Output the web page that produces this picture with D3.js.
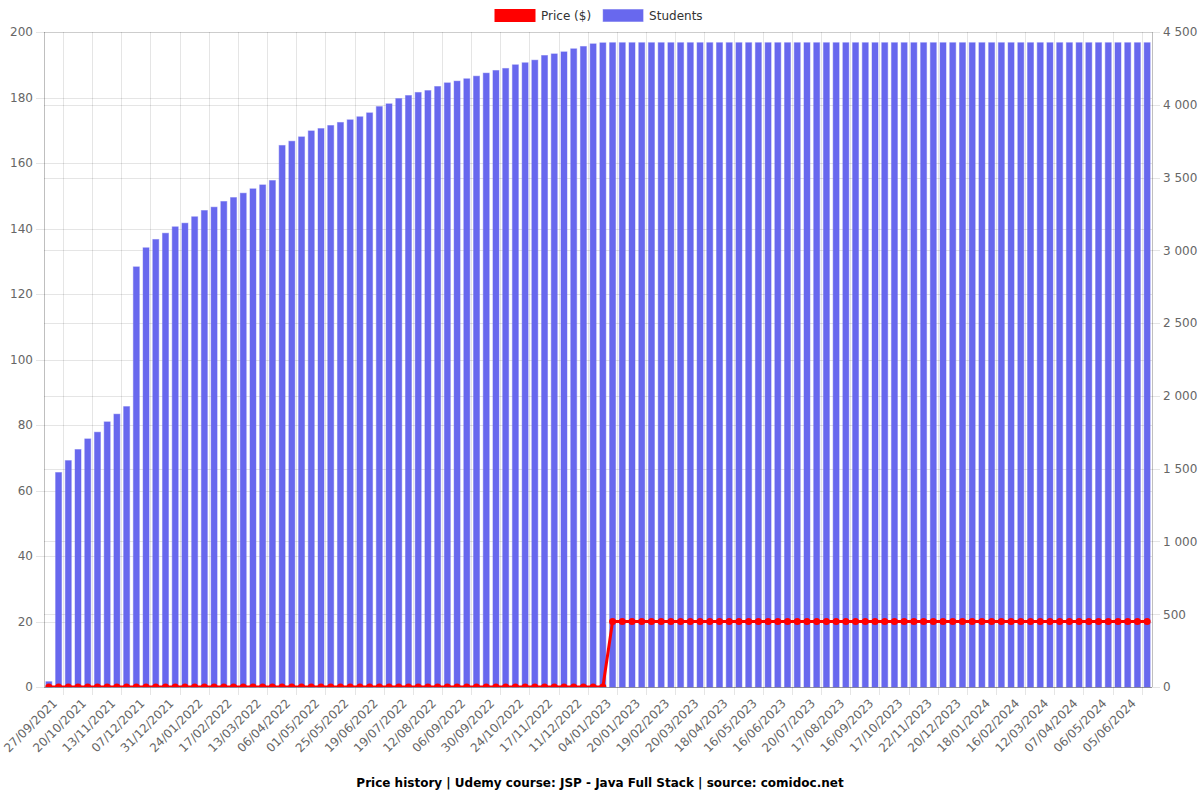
<!DOCTYPE html>
<html><head><meta charset="utf-8">
<script src="https://cdn.jsdelivr.net/npm/d3@7"></script>
<style>body{margin:0;background:#fff}svg text{font-family:"DejaVu Sans",sans-serif}</style>
</head><body><svg id="c" width="1200" height="800"></svg>
<script>
const tickLabels = ["27/09/2021","20/10/2021","13/11/2021","07/12/2021","31/12/2021","24/01/2022","17/02/2022","13/03/2022","06/04/2022","01/05/2022","25/05/2022","19/06/2022","19/07/2022","12/08/2022","06/09/2022","30/09/2022","24/10/2022","17/11/2022","11/12/2022","04/01/2023","20/01/2023","19/02/2023","20/03/2023","18/04/2023","16/05/2023","16/06/2023","20/07/2023","17/08/2023","16/09/2023","17/10/2023","22/11/2023","20/12/2023","18/01/2024","16/02/2024","12/03/2024","07/04/2024","06/05/2024","05/06/2024"];
const students = [40,1477,1559,1635,1708,1754,1825,1878,1930,2890,
  3021,3078,3121,3165,3190,3234,3277,3300,3339,3366,
  3396,3426,3453,3483,3724,3753,3783,3824,3840,3861,
  3882,3900,3921,3948,3991,4010,4046,4067,4088,4101,
  4129,4154,4166,4182,4200,4221,4239,4253,4278,4292,
  4310,4342,4353,4367,4388,4404,4422,4429,
  4430,4430,4430,4430,4430,4430,4430,4430,
  4430,4430,4430,4430,4430,4430,4430,4430,
  4430,4430,4430,4430,4430,4430,4430,4430,
  4430,4430,4430,4430,4430,4430,4430,4430,
  4430,4430,4430,4430,4430,4430,4430,4430,
  4430,4430,4430,4430,4430,4430,4430,4430,
  4430,4430,4430,4430,4430,4430,4430,4430];
const price = [0,0,0,0,0,0,0,0,0,0,0,0,0,0,0,0,0,0,0,0,
  0,0,0,0,0,0,0,0,0,0,0,0,0,0,0,0,0,0,0,0,
  0,0,0,0,0,0,0,0,0,0,0,0,0,0,0,0,0,0,
  20,20,20,20,20,20,20,20,20,20,20,20,20,20,
  20,20,20,20,20,20,20,20,20,20,20,20,20,20,
  20,20,20,20,20,20,20,20,20,20,20,20,20,20,
  20,20,20,20,20,20,20,20,20,20,20,20,20,20];
const seriesNames = ["Price ($)", "Students"];
const titleText = "Price history | Udemy course: JSP - Java Full Stack | source: comidoc.net";

const L = 44, R = 1152, T = 32, B = 687;
const svg = d3.select("#c");
const idx = d3.range(students.length);
const x = d3.scaleBand().domain(idx).range([L, R]);
const bw = x.bandwidth();
const yL = d3.scaleLinear().domain([0, 200]).range([B, T]);
const yR = d3.scaleLinear().domain([0, 4500]).range([B, T]);
const grid = "rgba(0,0,0,0.1)";
const txt = "#666";
const barFill = "#6868ee";
const red = "#ff0000";
const fmtR = d3.formatLocale({decimal: ".", thousands: " ", grouping: [3], currency: ["", ""]}).format(",d");

// vertical grid lines (offset, every 3rd category)
const vg = d3.range(2, students.length, 3);
svg.append("g").selectAll("line").data(vg).join("line")
  .attr("x1", d => x(d)).attr("x2", d => x(d))
  .attr("y1", T).attr("y2", B + 8)
  .attr("stroke", grid).attr("shape-rendering", "crispEdges");
// borders
svg.append("line").attr("x1", L).attr("x2", L).attr("y1", T).attr("y2", B).attr("stroke", "rgba(0,0,0,0.25)").attr("shape-rendering", "crispEdges");
svg.append("line").attr("x1", R).attr("x2", R).attr("y1", T).attr("y2", B).attr("stroke", "rgba(0,0,0,0.25)").attr("shape-rendering", "crispEdges");

// left axis with grid
const gL = svg.append("g").attr("transform", `translate(${L},0)`)
  .call(d3.axisLeft(yL).ticks(10).tickSize(8).tickPadding(3));
gL.select(".domain").remove();
gL.selectAll(".tick line").attr("stroke", grid).attr("x2", -8).attr("x1", R - L).attr("shape-rendering", "crispEdges");
gL.selectAll(".tick text").attr("fill", txt).style("font-size", "12px");

// right axis with grid
const gR = svg.append("g").attr("transform", `translate(${R},0)`)
  .call(d3.axisRight(yR).tickValues(d3.range(0, 4501, 500)).tickFormat(fmtR).tickSize(8).tickPadding(3));
gR.select(".domain").remove();
gR.selectAll(".tick line").attr("stroke", grid).attr("x1", -(R - L)).attr("x2", 8).attr("shape-rendering", "crispEdges");
gR.selectAll(".tick text").attr("fill", txt).style("font-size", "12px");

// bars
const barW = bw * 0.72;
svg.append("g").selectAll("rect").data(idx).join("rect")
  .attr("x", d => x(d) + (bw - barW) / 2 + 0.5)
  .attr("width", barW - 1)
  .attr("y", d => yR(students[d]) + 0.5)
  .attr("height", d => Math.max(0, B - yR(students[d]) - 0.5))
  .attr("fill", barFill)
  .attr("stroke", "rgba(104,104,238,0.45)")
  .attr("stroke-width", 1);

// x axis labels
const labelIdx = tickLabels.map((_, k) => k * 3);
const gX = svg.append("g").attr("transform", `translate(0,${B})`)
  .call(d3.axisBottom(x).tickValues(labelIdx).tickFormat(d => tickLabels[d / 3]).tickSize(0));
gX.select(".domain").remove();
gX.selectAll(".tick text")
  .attr("fill", txt).style("font-size", "12px")
  .attr("text-anchor", "end")
  .attr("dy", "0.35em").attr("y", 0)
  .attr("transform", "translate(6,14) rotate(-45)");

// bottom border line
svg.append("line").attr("x1", L).attr("x2", R).attr("y1", B).attr("y2", B).attr("stroke", "rgba(0,0,0,0.25)").attr("shape-rendering", "crispEdges");

// price line (clipped)
svg.append("clipPath").attr("id", "clip").append("rect").attr("x", L).attr("y", T - 5).attr("width", R - L).attr("height", B - T + 5);
const gP = svg.append("g").attr("clip-path", "url(#clip)");
const line = d3.line().x(d => x(d) + bw / 2).y(d => yL(price[d]));
gP.append("path").datum(idx).attr("d", line).attr("fill", "none").attr("stroke", red).attr("stroke-width", 3);
gP.selectAll("circle").data(idx).join("circle")
  .attr("cx", d => x(d) + bw / 2).attr("cy", d => yL(price[d])).attr("r", 3.5).attr("fill", red);

// legend
const lg = svg.append("g");
const colors = [red, barFill];
let lx = 495;
seriesNames.forEach((n, i) => {
  lg.append("rect").attr("x", lx).attr("y", 9.5).attr("width", 40).attr("height", 12)
    .attr("fill", colors[i]).attr("stroke", i === 0 ? red : "rgba(104,104,238,0.45)");
  const t = lg.append("text").attr("x", lx + 46).attr("y", 16).attr("dy", "0.35em")
    .attr("fill", "#333").style("font-size", "12px").text(n);
  lx += 46 + t.node().getComputedTextLength() + 12;
});

// title
svg.append("text").attr("x", 600).attr("y", 783).attr("dy", "0.35em").attr("text-anchor", "middle")
  .style("font-size", "12px").style("font-weight", "bold").attr("fill", "#000").text(titleText);
</script></body></html>
